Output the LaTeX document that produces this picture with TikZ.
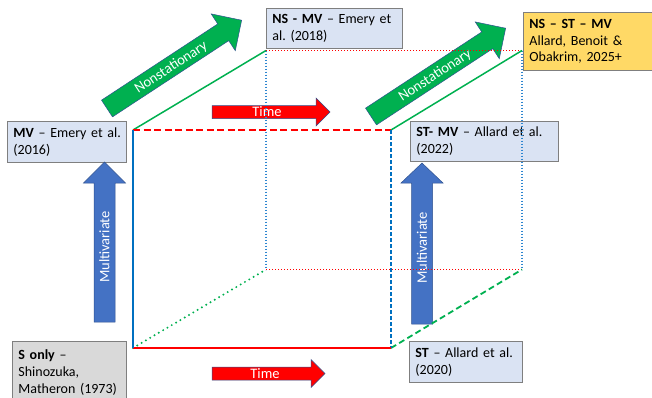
\documentclass[tikz,border=0pt]{standalone}
\usepackage{fontspec}
\setmainfont{Carlito}
\frenchspacing
\definecolor{boxblue}{HTML}{DAE3F3}
\definecolor{boxyellow}{HTML}{FFD966}
\definecolor{boxgray}{HTML}{D9D9D9}
\definecolor{boxedge}{HTML}{7F7F7F}
\definecolor{arrblue}{HTML}{4472C4}
\definecolor{arrgreen}{HTML}{00B050}
\definecolor{arrred}{HTML}{FF0000}
\definecolor{arredge}{HTML}{2F528F}
\definecolor{lineblue}{HTML}{0070C0}
\definecolor{lineblue2}{HTML}{2E86D0}
\definecolor{linegreen}{HTML}{00B050}
\definecolor{linered}{HTML}{FF0000}
\begin{document}
\begin{tikzpicture}[x=1pt,y=1pt,
  refbox/.style={draw=boxedge,line width=0.9pt,rectangle,inner xsep=6pt,inner ysep=0pt,
    align=left,anchor=north west,font=\fontsize{14}{16.8}\selectfont\frenchspacing},
  blockarrow/.style={draw=arredge,line width=0.5pt},
  arrlabel/.style={text=white,inner sep=0pt,font=\fontsize{14.5}{17}\selectfont},
  frontsolid/.style={line width=1.8pt},
  frontdash/.style={line width=1.8pt,dash pattern=on 7pt off 3.5pt},
  bluedash/.style={line width=1.6pt,dash pattern=on 4pt off 2pt},
  backdot/.style={line width=1.1pt,dash pattern=on 1.2pt off 1.8pt},
  greendot/.style={line width=2.2pt,line cap=round,dash pattern=on 0pt off 5pt},
  greendash/.style={line width=1.8pt,dash pattern=on 6pt off 3.5pt}]
\useasboundingbox (0,0) rectangle (652,-397);
\clip (0,0) rectangle (652,-397);

% boxes
\node[refbox,fill=boxblue,minimum width=119,minimum height=41,text width=107] (mv) at (7,-121)
  {\mbox{\textbf{MV} – Emery et al.}\\(2016)};
\node[refbox,fill=boxblue,minimum width=136,minimum height=40,text width=124] (nsmv) at (266,-8)
  {\mbox{\textbf{NS - MV} – Emery et}\\al. (2018)};
\node[refbox,fill=boxyellow,minimum width=129,minimum height=58,text width=117] (nsstmv) at (523,-12)
  {\mbox{\textbf{NS – ST – MV}}\\\mbox{Allard, Benoit \&}\\\mbox{Obakrim, 2025+}};
\node[refbox,fill=boxblue,minimum width=148,minimum height=40,text width=136] (stmv) at (410,-121)
  {\mbox{\textbf{ST- MV} – Allard et al.}\\(2022)};
\node[refbox,fill=boxblue,minimum width=113,minimum height=41,text width=101] (st) at (409,-341)
  {\mbox{\textbf{ST} – Allard et al.}\\(2020)};
\node[refbox,fill=boxgray,minimum width=114,minimum height=62,text width=102] (sonly) at (12,-341)
  {\mbox{\textbf{S only} –}\\Shinozuka,\\\mbox{Matheron (1973)}};

% green arrows (Nonstationary)
\begin{scope}[shift={(107,-108.5)},rotate=33.25]
  \fill[arrgreen,blockarrow] (0,-10) -- (139,-10) -- (139,-22) -- (161,0) -- (139,22) -- (139,10) -- (0,10) -- cycle;
  \node[arrlabel,rotate=33.25] (ns1) at (76,-1) {Nonstationary};
\end{scope}
\begin{scope}[shift={(371,-116.5)},rotate=33.25]
  \fill[arrgreen,blockarrow] (0,-10) -- (139,-10) -- (139,-22) -- (161,0) -- (139,22) -- (139,10) -- (0,10) -- cycle;
  \node[arrlabel,rotate=33.25] (ns2) at (76,-1) {Nonstationary};
\end{scope}

% red arrows (Time)
\fill[arrred,blockarrow] (212,-105.5) -- (316,-105.5) -- (316,-98) -- (330,-112) -- (316,-126) -- (316,-118.5) -- (212,-118.5) -- cycle;
\node[arrlabel] (time1) at (267,-112) {Time};
\fill[arrred,blockarrow] (212,-367) -- (311,-367) -- (311,-359.5) -- (325,-373.5) -- (311,-387.5) -- (311,-380) -- (212,-380) -- cycle;
\node[arrlabel] (time2) at (265,-373.5) {Time};

% blue arrows (Multivariate)
\fill[arrblue,blockarrow] (94,-322) -- (94,-183) -- (83.5,-183) -- (104.5,-162) -- (125.5,-183) -- (115,-183) -- (115,-322) -- cycle;
\node[arrlabel,rotate=90] (mult1) at (104.5,-247) {Multivariate};
\fill[arrblue,blockarrow] (411.5,-324) -- (411.5,-183) -- (401,-183) -- (422,-163) -- (443,-183) -- (432.5,-183) -- (432.5,-324) -- cycle;
\node[arrlabel,rotate=90] (mult2) at (422,-248) {Multivariate};

% cube corners
\coordinate (A) at (133,-348);
\coordinate (B) at (133,-130);
\coordinate (C) at (391,-130);
\coordinate (D) at (391,-348);
\coordinate (E) at (266,-269.5);
\coordinate (F) at (266,-50.5);
\coordinate (G) at (522,-50.5);
\coordinate (H) at (522,-269.5);

% back edges
\draw[backdot,lineblue2] (F) -- (E);
\draw[backdot,lineblue2] (G) -- (H);
\draw[backdot,linered] (F) -- (G);
\draw[backdot,linered] (E) -- (H);
% depth edges
\draw[line width=1.5pt,linegreen] (B) -- (F);
\draw[line width=1.5pt,linegreen] (C) -- (G);
\draw[greendot,linegreen] (A) -- (E);
\draw[greendash,linegreen] (D) -- (H);
% front edges
\draw[frontdash,linered] (B) -- (C);
\draw[bluedash,lineblue] (C) -- (D);
\draw[frontsolid,linered] (A) -- (D);
\draw[frontsolid,lineblue] (A) -- (B);
\end{tikzpicture}
\end{document}
